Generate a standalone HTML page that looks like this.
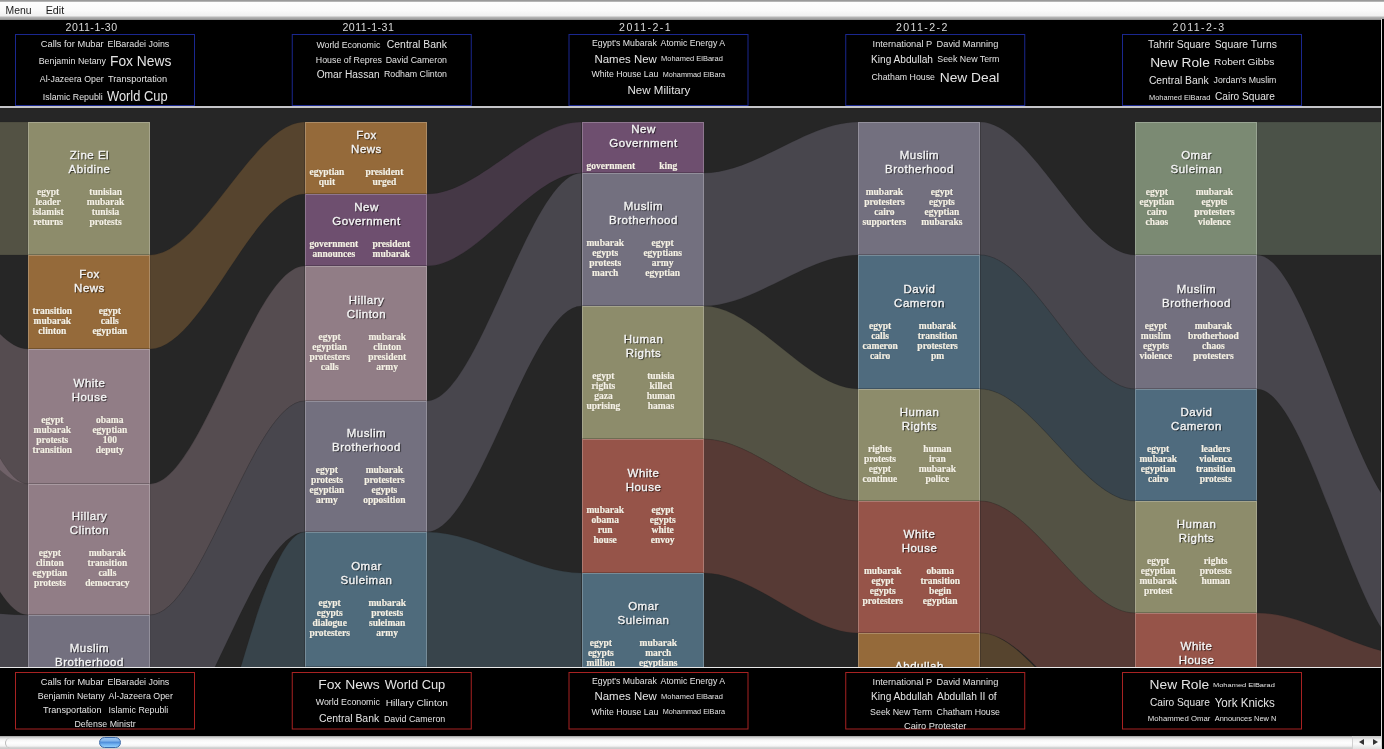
<!DOCTYPE html>
<html><head><meta charset="utf-8">
<style>
*{box-sizing:border-box}
html,body{margin:0;padding:0;width:1384px;height:749px;overflow:hidden;background:#000;font-family:"Liberation Sans",sans-serif}
#menu{position:absolute;left:0;top:0;width:1384px;height:20px;background:linear-gradient(#8a8a8a 0,#a8a8a8 1px,#c0c0c0 2px,#fdfdfd 2.5px,#fafafa 10px,#f0f0f0 16px,#b8b8b8 17px,#a0a0a0 19px,#888 20px)}
#menu span{position:absolute;top:3px;font-size:12px;color:#222}
.date{position:absolute;top:20px;width:180px;text-align:center;color:#e8e8e8;font-size:10.5px;letter-spacing:1px;line-height:14px}
.hbox{position:absolute;top:34px;width:180px;height:72px;border:1px solid #1a2a9a;border-bottom-color:#1a2a9a;padding-top:2px}
.fbox{position:absolute;top:672px;width:180px;height:57px;border:1px solid #a02020;padding-top:1px}
.row{display:flex;justify-content:center;align-items:baseline;gap:5px;color:#eaeaea;white-space:nowrap;line-height:1.25}
#hline{position:absolute;left:0;top:106px;width:1381px;height:2px;background:#c4c4c8}
#stage{position:absolute;left:0;top:108px;width:1381px;height:559px;background:#262626;overflow:hidden}
#stage svg{position:absolute;left:0;top:-108px}
.box{position:absolute;width:122px;border:1px solid;display:flex;align-items:center;justify-content:center;overflow:visible}
.inner{width:100%;text-align:center;will-change:transform;margin-top:-1px}
.ttl{color:#f4f4f4;font-size:11.5px;line-height:13.5px;letter-spacing:0.5px;text-shadow:1px 1px 1px rgba(0,0,0,.75);-webkit-text-stroke:0.35px #f4f4f4;padding-left:1px}
.kw{position:relative;height:var(--kh);margin-top:10.5px;font-family:"Liberation Serif",serif;font-weight:bold;font-size:9.5px;line-height:10px;color:#f6f2e6;text-shadow:0 0 1px rgba(0,0,0,.35);-webkit-text-stroke:0.2px #f6f2e6}
.kc{position:absolute;top:0;width:80px;text-align:center}
#fline{position:absolute;left:0;top:667px;width:1381px;height:1px;background:#e8e8e8}
#vline{position:absolute;left:1381px;top:19px;width:1px;height:730px;background:#d8d8d8}
#rstrip{position:absolute;left:1382px;top:19px;width:2px;height:730px;background:#000}
#ov{position:absolute;left:0;top:0;pointer-events:none;will-change:transform}
#scroll{position:absolute;left:0;top:736px;width:1381px;height:13px;background:linear-gradient(#9a9a9a 0,#c4c4c4 1px,#dcdcdc 2px,#f6f6f6 4px,#fefefe 7px,#f4f4f4 10px,#d4d4d4 11.5px,#c8c8c8 13px)}
#scap{position:absolute;left:5px;top:1.5px;width:14px;height:10px;border-radius:5px 0 0 5px;border-left:1px solid #b8b8b8;background:transparent}
#arrows{position:absolute;left:1352px;top:0;width:29px;height:13px;background:linear-gradient(#c0c0c0,#f0f0f0 30%,#fafafa 60%,#e0e0e0);border-left:1px solid #d0d0d0}
#arrows span{position:absolute;top:3px;width:0;height:0;border-top:3.5px solid transparent;border-bottom:3.5px solid transparent}
#thumb{position:absolute;left:98.5px;top:1px;width:22px;height:10.5px;border-radius:5.5px;background:linear-gradient(#9cc4f0 0,#80b4ec 35%,#4a8ad8 45%,#70b0f0 70%,#90d0fc 100%);border:1px solid #3c6aa8}
</style></head><body>
<div id="menu"></div>

<div id="hline"></div>
<div id="stage">
<svg width="1381" height="667" viewBox="0 0 1381 667">
<path d="M-126.8,122 C-75.2,122 -23.6,122 28.0,122 L28.0,255 C-23.6,255 -75.2,255 -126.8,255 Z" fill="#8d8c6b" fill-opacity="0.44" stroke="#1a1a1a" stroke-opacity="0.15" stroke-width="1"/>
<path d="M-126.8,175 C-75.2,175 -23.6,349 28.0,349 L28.0,484 C-23.6,484 -75.2,322 -126.8,322 Z" fill="#917d86" fill-opacity="0.44" stroke="#1a1a1a" stroke-opacity="0.15" stroke-width="1"/>
<path d="M-126.8,183 C-75.2,183 -23.6,484 28.0,484 L28.0,615 C-23.6,615 -75.2,349 -126.8,349 Z" fill="#917d86" fill-opacity="0.44" stroke="#1a1a1a" stroke-opacity="0.15" stroke-width="1"/>
<path d="M-126.8,600 C-75.2,600 -23.6,615 28.0,615 L28.0,748 C-23.6,748 -75.2,735 -126.8,735 Z" fill="#73707f" fill-opacity="0.44" stroke="#1a1a1a" stroke-opacity="0.15" stroke-width="1"/>
<path d="M150.0,255 C201.6,255 253.2,122 304.8,122 L304.8,194 C253.2,194 201.6,349 150.0,349 Z" fill="#956a3a" fill-opacity="0.44" stroke="#1a1a1a" stroke-opacity="0.15" stroke-width="1"/>
<path d="M150.0,484 C201.6,484 253.2,266 304.8,266 L304.8,401 C253.2,401 201.6,615 150.0,615 Z" fill="#917d86" fill-opacity="0.44" stroke="#1a1a1a" stroke-opacity="0.15" stroke-width="1"/>
<path d="M150.0,615 C201.6,615 253.2,401 304.8,401 L304.8,532 C253.2,532 201.6,750 150.0,750 Z" fill="#73707f" fill-opacity="0.44" stroke="#1a1a1a" stroke-opacity="0.15" stroke-width="1"/>
<path d="M150.0,896 C201.6,896 253.2,532 304.8,532 L304.8,667 C253.2,667 201.6,1030 150.0,1030 Z" fill="#4f6b7c" fill-opacity="0.44" stroke="#1a1a1a" stroke-opacity="0.15" stroke-width="1"/>
<path d="M426.8,194 C478.3,194 529.9,122 581.5,122 L581.5,173 C529.9,173 478.3,266 426.8,266 Z" fill="#6e4f6f" fill-opacity="0.44" stroke="#1a1a1a" stroke-opacity="0.15" stroke-width="1"/>
<path d="M426.8,401 C478.3,401 529.9,173 581.5,173 L581.5,306 C529.9,306 478.3,532 426.8,532 Z" fill="#73707f" fill-opacity="0.44" stroke="#1a1a1a" stroke-opacity="0.15" stroke-width="1"/>
<path d="M426.8,532 C478.3,532 529.9,573 581.5,573 L581.5,706 C529.9,706 478.3,667 426.8,667 Z" fill="#4f6b7c" fill-opacity="0.44" stroke="#1a1a1a" stroke-opacity="0.15" stroke-width="1"/>
<path d="M703.5,173 C755.1,173 806.7,122 858.2,122 L858.2,255 C806.7,255 755.1,306 703.5,306 Z" fill="#73707f" fill-opacity="0.44" stroke="#1a1a1a" stroke-opacity="0.15" stroke-width="1"/>
<path d="M703.5,306 C755.1,306 806.7,389 858.2,389 L858.2,501 C806.7,501 755.1,439 703.5,439 Z" fill="#8d8c6b" fill-opacity="0.44" stroke="#1a1a1a" stroke-opacity="0.15" stroke-width="1"/>
<path d="M703.5,439 C755.1,439 806.7,501 858.2,501 L858.2,633 C806.7,633 755.1,573 703.5,573 Z" fill="#965449" fill-opacity="0.44" stroke="#1a1a1a" stroke-opacity="0.15" stroke-width="1"/>
<path d="M980.2,122 C1031.8,122 1083.4,255 1135.0,255 L1135.0,389 C1083.4,389 1031.8,255 980.2,255 Z" fill="#73707f" fill-opacity="0.44" stroke="#1a1a1a" stroke-opacity="0.15" stroke-width="1"/>
<path d="M980.2,255 C1031.8,255 1083.4,389 1135.0,389 L1135.0,501 C1083.4,501 1031.8,389 980.2,389 Z" fill="#4f6b7e" fill-opacity="0.44" stroke="#1a1a1a" stroke-opacity="0.15" stroke-width="1"/>
<path d="M980.2,389 C1031.8,389 1083.4,501 1135.0,501 L1135.0,613 C1083.4,613 1031.8,501 980.2,501 Z" fill="#8d8c6b" fill-opacity="0.44" stroke="#1a1a1a" stroke-opacity="0.15" stroke-width="1"/>
<path d="M980.2,501 C1031.8,501 1083.4,613 1135.0,613 L1135.0,746 C1083.4,746 1031.8,633 980.2,633 Z" fill="#965449" fill-opacity="0.44" stroke="#1a1a1a" stroke-opacity="0.15" stroke-width="1"/>
<path d="M980.2,633 C1031.8,633 1083.4,752 1135.0,752 L1135.0,860 C1083.4,860 1031.8,745 980.2,745 Z" fill="#956a3a" fill-opacity="0.44" stroke="#1a1a1a" stroke-opacity="0.15" stroke-width="1"/>
<path d="M1257.0,122 C1308.6,122 1360.2,122 1411.8,122 L1411.8,255 C1360.2,255 1308.6,255 1257.0,255 Z" fill="#7b8a73" fill-opacity="0.44" stroke="#1a1a1a" stroke-opacity="0.15" stroke-width="1"/>
<path d="M1257.0,255 C1308.6,255 1360.2,520 1411.8,520 L1411.8,655 C1360.2,655 1308.6,389 1257.0,389 Z" fill="#73707f" fill-opacity="0.44" stroke="#1a1a1a" stroke-opacity="0.15" stroke-width="1"/>
<path d="M1257.0,613 C1308.6,613 1360.2,655 1411.8,655 L1411.8,790 C1360.2,790 1308.6,746 1257.0,746 Z" fill="#965449" fill-opacity="0.44" stroke="#1a1a1a" stroke-opacity="0.15" stroke-width="1"/>
</svg>
<div class="box" style="left:28.00px;top:14px;height:133px;background:#8d8c6b;border-color:#a6a58c;border-bottom-color:#6e6d53"><div class="inner"><div class="ttl">Zine El<br>Abidine</div><div class="kw" style="--kh:40px"><div class="kc" style="left:-20.9px"><div>egypt</div><div>leader</div><div>islamist</div><div>returns</div></div><div class="kc" style="left:36.6px"><div>tunisian</div><div>mubarak</div><div>tunisia</div><div>protests</div></div></div></div></div><div class="box" style="left:28.00px;top:147px;height:94px;background:#956a3a;border-color:#ac8b65;border-bottom-color:#74532d"><div class="inner"><div class="ttl">Fox<br>News</div><div class="kw" style="--kh:30px"><div class="kc" style="left:-16.7px"><div>transition</div><div>mubarak</div><div>clinton</div></div><div class="kc" style="left:40.8px"><div>egypt</div><div>calls</div><div>egyptian</div></div></div></div></div><div class="box" style="left:28.00px;top:241px;height:135px;background:#917d86;border-color:#a99aa1;border-bottom-color:#716269"><div class="inner"><div class="ttl">White<br>House</div><div class="kw" style="--kh:40px"><div class="kc" style="left:-16.7px"><div>egypt</div><div>mubarak</div><div>protests</div><div>transition</div></div><div class="kc" style="left:40.8px"><div>obama</div><div>egyptian</div><div>100</div><div>deputy</div></div></div></div></div><div class="box" style="left:28.00px;top:376px;height:131px;background:#917d86;border-color:#a99aa1;border-bottom-color:#716269"><div class="inner"><div class="ttl">Hillary<br>Clinton</div><div class="kw" style="--kh:40px"><div class="kc" style="left:-19.1px"><div>egypt</div><div>clinton</div><div>egyptian</div><div>protests</div></div><div class="kc" style="left:38.4px"><div>mubarak</div><div>transition</div><div>calls</div><div>democracy</div></div></div></div></div><div class="box" style="left:28.00px;top:507px;height:133px;background:#73707f;border-color:#928f9b;border-bottom-color:#5a5763"><div class="inner"><div class="ttl">Muslim<br>Brotherhood</div><div class="kw" style="--kh:40px"><div class="kc" style="left:-20.5px"><div>egypt</div><div>protests</div><div>army</div><div>cairo</div></div><div class="kc" style="left:37.0px"><div>mubarak</div><div>egypts</div><div>protesters</div><div>egyptian</div></div></div></div></div><div class="box" style="left:304.75px;top:14px;height:72px;background:#956a3a;border-color:#ac8b65;border-bottom-color:#74532d"><div class="inner"><div class="ttl">Fox<br>News</div><div class="kw" style="--kh:20px"><div class="kc" style="left:-19.1px"><div>egyptian</div><div>quit</div></div><div class="kc" style="left:38.4px"><div>president</div><div>urged</div></div></div></div></div><div class="box" style="left:304.75px;top:86px;height:72px;background:#6e4f6f;border-color:#8e768f;border-bottom-color:#563e57"><div class="inner"><div class="ttl">New<br>Government</div><div class="kw" style="--kh:20px"><div class="kc" style="left:-12.2px"><div>government</div><div>announces</div></div><div class="kc" style="left:45.3px"><div>president</div><div>mubarak</div></div></div></div></div><div class="box" style="left:304.75px;top:158px;height:135px;background:#917d86;border-color:#a99aa1;border-bottom-color:#716269"><div class="inner"><div class="ttl">Hillary<br>Clinton</div><div class="kw" style="--kh:40px"><div class="kc" style="left:-16.3px"><div>egypt</div><div>egyptian</div><div>protesters</div><div>calls</div></div><div class="kc" style="left:41.2px"><div>mubarak</div><div>clinton</div><div>president</div><div>army</div></div></div></div></div><div class="box" style="left:304.75px;top:293px;height:131px;background:#73707f;border-color:#928f9b;border-bottom-color:#5a5763"><div class="inner"><div class="ttl">Muslim<br>Brotherhood</div><div class="kw" style="--kh:40px"><div class="kc" style="left:-19.1px"><div>egypt</div><div>protests</div><div>egyptian</div><div>army</div></div><div class="kc" style="left:38.4px"><div>mubarak</div><div>protesters</div><div>egypts</div><div>opposition</div></div></div></div></div><div class="box" style="left:304.75px;top:424px;height:135px;background:#4f6b7c;border-color:#768c99;border-bottom-color:#3e5361"><div class="inner"><div class="ttl">Omar<br>Suleiman</div><div class="kw" style="--kh:40px"><div class="kc" style="left:-16.3px"><div>egypt</div><div>egypts</div><div>dialogue</div><div>protesters</div></div><div class="kc" style="left:41.2px"><div>mubarak</div><div>protests</div><div>suleiman</div><div>army</div></div></div></div></div><div class="box" style="left:581.50px;top:14px;height:51px;background:#6e4f6f;border-color:#8e768f;border-bottom-color:#563e57"><div class="inner"><div class="ttl">New<br>Government</div><div class="kw" style="--kh:10px"><div class="kc" style="left:-12.2px"><div>government</div></div><div class="kc" style="left:45.3px"><div>king</div></div></div></div></div><div class="box" style="left:581.50px;top:65px;height:133px;background:#73707f;border-color:#928f9b;border-bottom-color:#5a5763"><div class="inner"><div class="ttl">Muslim<br>Brotherhood</div><div class="kw" style="--kh:40px"><div class="kc" style="left:-17.8px"><div>mubarak</div><div>egypts</div><div>protests</div><div>march</div></div><div class="kc" style="left:39.7px"><div>egypt</div><div>egyptians</div><div>army</div><div>egyptian</div></div></div></div></div><div class="box" style="left:581.50px;top:198px;height:133px;background:#8d8c6b;border-color:#a6a58c;border-bottom-color:#6e6d53"><div class="inner"><div class="ttl">Human<br>Rights</div><div class="kw" style="--kh:40px"><div class="kc" style="left:-19.6px"><div>egypt</div><div>rights</div><div>gaza</div><div>uprising</div></div><div class="kc" style="left:37.9px"><div>tunisia</div><div>killed</div><div>human</div><div>hamas</div></div></div></div></div><div class="box" style="left:581.50px;top:331px;height:134px;background:#965449;border-color:#ad7a71;border-bottom-color:#754239"><div class="inner"><div class="ttl">White<br>House</div><div class="kw" style="--kh:40px"><div class="kc" style="left:-17.8px"><div>mubarak</div><div>obama</div><div>run</div><div>house</div></div><div class="kc" style="left:39.7px"><div>egypt</div><div>egypts</div><div>white</div><div>envoy</div></div></div></div></div><div class="box" style="left:581.50px;top:465px;height:133px;background:#4f6b7c;border-color:#768c99;border-bottom-color:#3e5361"><div class="inner"><div class="ttl">Omar<br>Suleiman</div><div class="kw" style="--kh:40px"><div class="kc" style="left:-22.2px"><div>egypt</div><div>egypts</div><div>million</div><div>cairo</div></div><div class="kc" style="left:35.3px"><div>mubarak</div><div>march</div><div>egyptians</div><div>army</div></div></div></div></div><div class="box" style="left:858.25px;top:14px;height:133px;background:#73707f;border-color:#928f9b;border-bottom-color:#5a5763"><div class="inner"><div class="ttl">Muslim<br>Brotherhood</div><div class="kw" style="--kh:40px"><div class="kc" style="left:-14.6px"><div>mubarak</div><div>protesters</div><div>cairo</div><div>supporters</div></div><div class="kc" style="left:42.9px"><div>egypt</div><div>egypts</div><div>egyptian</div><div>mubaraks</div></div></div></div></div><div class="box" style="left:858.25px;top:147px;height:134px;background:#4f6b7e;border-color:#768c9a;border-bottom-color:#3e5362"><div class="inner"><div class="ttl">David<br>Cameron</div><div class="kw" style="--kh:40px"><div class="kc" style="left:-18.9px"><div>egypt</div><div>calls</div><div>cameron</div><div>cairo</div></div><div class="kc" style="left:38.6px"><div>mubarak</div><div>transition</div><div>protesters</div><div>pm</div></div></div></div></div><div class="box" style="left:858.25px;top:281px;height:112px;background:#8d8c6b;border-color:#a6a58c;border-bottom-color:#6e6d53"><div class="inner"><div class="ttl">Human<br>Rights</div><div class="kw" style="--kh:40px"><div class="kc" style="left:-19.1px"><div>rights</div><div>protests</div><div>egypt</div><div>continue</div></div><div class="kc" style="left:38.4px"><div>human</div><div>iran</div><div>mubarak</div><div>police</div></div></div></div></div><div class="box" style="left:858.25px;top:393px;height:132px;background:#965449;border-color:#ad7a71;border-bottom-color:#754239"><div class="inner"><div class="ttl">White<br>House</div><div class="kw" style="--kh:40px"><div class="kc" style="left:-16.3px"><div>mubarak</div><div>egypt</div><div>egypts</div><div>protesters</div></div><div class="kc" style="left:41.2px"><div>obama</div><div>transition</div><div>begin</div><div>egyptian</div></div></div></div></div><div class="box" style="left:858.25px;top:525px;height:112px;background:#956a3a;border-color:#ac8b65;border-bottom-color:#74532d"><div class="inner"><div class="ttl">Abdullah<br>II</div><div class="kw" style="--kh:20px"><div class="kc" style="left:-25.4px"><div>egypt</div><div>king</div></div><div class="kc" style="left:32.1px"><div>jordan</div><div>abdullah</div></div></div></div></div><div class="box" style="left:1135.00px;top:14px;height:133px;background:#7b8a73;border-color:#98a492;border-bottom-color:#606c5a"><div class="inner"><div class="ttl">Omar<br>Suleiman</div><div class="kw" style="--kh:40px"><div class="kc" style="left:-19.1px"><div>egypt</div><div>egyptian</div><div>cairo</div><div>chaos</div></div><div class="kc" style="left:38.4px"><div>mubarak</div><div>egypts</div><div>protesters</div><div>violence</div></div></div></div></div><div class="box" style="left:1135.00px;top:147px;height:134px;background:#73707f;border-color:#928f9b;border-bottom-color:#5a5763"><div class="inner"><div class="ttl">Muslim<br>Brotherhood</div><div class="kw" style="--kh:40px"><div class="kc" style="left:-20.1px"><div>egypt</div><div>muslim</div><div>egypts</div><div>violence</div></div><div class="kc" style="left:37.4px"><div>mubarak</div><div>brotherhood</div><div>chaos</div><div>protesters</div></div></div></div></div><div class="box" style="left:1135.00px;top:281px;height:112px;background:#4f6b7e;border-color:#768c9a;border-bottom-color:#3e5362"><div class="inner"><div class="ttl">David<br>Cameron</div><div class="kw" style="--kh:40px"><div class="kc" style="left:-17.8px"><div>egypt</div><div>mubarak</div><div>egyptian</div><div>cairo</div></div><div class="kc" style="left:39.7px"><div>leaders</div><div>violence</div><div>transition</div><div>protests</div></div></div></div></div><div class="box" style="left:1135.00px;top:393px;height:112px;background:#8d8c6b;border-color:#a6a58c;border-bottom-color:#6e6d53"><div class="inner"><div class="ttl">Human<br>Rights</div><div class="kw" style="--kh:40px"><div class="kc" style="left:-17.8px"><div>egypt</div><div>egyptian</div><div>mubarak</div><div>protest</div></div><div class="kc" style="left:39.7px"><div>rights</div><div>protests</div><div>human</div></div></div></div></div><div class="box" style="left:1135.00px;top:505px;height:133px;background:#965449;border-color:#ad7a71;border-bottom-color:#754239"><div class="inner"><div class="ttl">White<br>House</div><div class="kw" style="--kh:40px"><div class="kc" style="left:-17.8px"><div>mubarak</div><div>egypt</div><div>obama</div><div>house</div></div><div class="kc" style="left:39.7px"><div>egypt</div><div>white</div><div>envoy</div><div>egyptian</div></div></div></div></div>
</div>
<div id="fline"></div>
<div id="scroll"><div id="scap"></div><div id="thumb"></div><div id="arrows"><span style="left:6px;border-right:5px solid #333"></span><span style="left:20px;border-left:5px solid #333"></span></div></div>
<div id="vline"></div><div id="rstrip"></div>
<svg id="ov" width="1384" height="749" viewBox="0 0 1384 749"><rect x="15.50" y="34.5" width="179" height="71" fill="none" stroke="#1a278f" stroke-width="1"/><rect x="15.50" y="672.5" width="179" height="56.5" fill="none" stroke="#a82222" stroke-width="1"/><rect x="292.25" y="34.5" width="179" height="71" fill="none" stroke="#1a278f" stroke-width="1"/><rect x="292.25" y="672.5" width="179" height="56.5" fill="none" stroke="#a82222" stroke-width="1"/><rect x="569.00" y="34.5" width="179" height="71" fill="none" stroke="#1a278f" stroke-width="1"/><rect x="569.00" y="672.5" width="179" height="56.5" fill="none" stroke="#a82222" stroke-width="1"/><rect x="845.75" y="34.5" width="179" height="71" fill="none" stroke="#1a278f" stroke-width="1"/><rect x="845.75" y="672.5" width="179" height="56.5" fill="none" stroke="#a82222" stroke-width="1"/><rect x="1122.50" y="34.5" width="179" height="71" fill="none" stroke="#1a278f" stroke-width="1"/><rect x="1122.50" y="672.5" width="179" height="56.5" fill="none" stroke="#a82222" stroke-width="1"/><g fill="#e4e4e4" font-family="Liberation Sans, sans-serif"><text x="40.8" y="46.8" font-size="9.45" textLength="62.9" lengthAdjust="spacingAndGlyphs">Calls for Mubar</text><text x="107.5" y="46.8" font-size="9.45" textLength="61.8" lengthAdjust="spacingAndGlyphs">ElBaradei Joins</text><text x="38.7" y="63.8" font-size="9.59" textLength="67.2" lengthAdjust="spacingAndGlyphs">Benjamin Netany</text><text x="110.0" y="66.3" font-size="14.68" textLength="61.4" lengthAdjust="spacingAndGlyphs">Fox News</text><text x="39.8" y="82.2" font-size="9.45" textLength="63.9" lengthAdjust="spacingAndGlyphs">Al-Jazeera Oper</text><text x="108.0" y="82.2" font-size="9.74" textLength="59.1" lengthAdjust="spacingAndGlyphs">Transportation</text><text x="42.8" y="99.6" font-size="9.59" textLength="60.0" lengthAdjust="spacingAndGlyphs">Islamic Republi</text><text x="107.0" y="101.0" font-size="13.95" textLength="60.6" lengthAdjust="spacingAndGlyphs">World Cup</text><text x="316.4" y="47.5" font-size="9.45" textLength="63.9" lengthAdjust="spacingAndGlyphs">World Economic</text><text x="386.8" y="48.3" font-size="11.34" textLength="60.2" lengthAdjust="spacingAndGlyphs">Central Bank</text><text x="315.8" y="62.7" font-size="9.45" textLength="66.2" lengthAdjust="spacingAndGlyphs">House of Repres</text><text x="385.7" y="62.7" font-size="9.45" textLength="61.3" lengthAdjust="spacingAndGlyphs">David Cameron</text><text x="316.7" y="77.7" font-size="11.05" textLength="62.9" lengthAdjust="spacingAndGlyphs">Omar Hassan</text><text x="383.9" y="77.0" font-size="8.72" textLength="63.1" lengthAdjust="spacingAndGlyphs">Rodham Clinton</text><text x="592.0" y="45.7" font-size="8.72" textLength="64.8" lengthAdjust="spacingAndGlyphs">Egypt&#39;s Mubarak</text><text x="660.6" y="45.7" font-size="8.72" textLength="64.5" lengthAdjust="spacingAndGlyphs">Atomic Energy A</text><text x="594.5" y="62.5" font-size="11.48" textLength="62.3" lengthAdjust="spacingAndGlyphs">Names New</text><text x="661.0" y="61.1" font-size="6.69" textLength="61.9" lengthAdjust="spacingAndGlyphs">Mohamed ElBarad</text><text x="591.5" y="76.8" font-size="8.72" textLength="66.9" lengthAdjust="spacingAndGlyphs">White House Lau</text><text x="662.7" y="76.5" font-size="6.69" textLength="62.3" lengthAdjust="spacingAndGlyphs">Mohammad ElBara</text><text x="627.5" y="93.6" font-size="11.77" textLength="62.9" lengthAdjust="spacingAndGlyphs">New Military</text><text x="872.6" y="46.8" font-size="9.45" textLength="59.6" lengthAdjust="spacingAndGlyphs">International P</text><text x="936.6" y="46.8" font-size="9.45" textLength="61.7" lengthAdjust="spacingAndGlyphs">David Manning</text><text x="871.0" y="62.7" font-size="11.05" textLength="62.0" lengthAdjust="spacingAndGlyphs">King Abdullah</text><text x="937.3" y="61.6" font-size="8.14" textLength="62.1" lengthAdjust="spacingAndGlyphs">Seek New Term</text><text x="871.5" y="79.5" font-size="8.58" textLength="63.5" lengthAdjust="spacingAndGlyphs">Chatham House</text><text x="939.8" y="81.7" font-size="13.37" textLength="59.6" lengthAdjust="spacingAndGlyphs">New Deal</text><text x="1148.0" y="47.5" font-size="10.61" textLength="62.3" lengthAdjust="spacingAndGlyphs">Tahrir Square</text><text x="1214.7" y="47.5" font-size="10.61" textLength="62.3" lengthAdjust="spacingAndGlyphs">Square Turns</text><text x="1150.2" y="66.5" font-size="13.37" textLength="59.6" lengthAdjust="spacingAndGlyphs">New Role</text><text x="1214.1" y="65.4" font-size="9.74" textLength="60.2" lengthAdjust="spacingAndGlyphs">Robert Gibbs</text><text x="1148.9" y="84.0" font-size="10.61" textLength="59.8" lengthAdjust="spacingAndGlyphs">Central Bank</text><text x="1213.6" y="83.3" font-size="9.45" textLength="62.8" lengthAdjust="spacingAndGlyphs">Jordan&#39;s Muslim</text><text x="1149.0" y="99.6" font-size="7.12" textLength="61.3" lengthAdjust="spacingAndGlyphs">Mohamed ElBarad</text><text x="1215.0" y="100.1" font-size="10.32" textLength="59.8" lengthAdjust="spacingAndGlyphs">Cairo Square</text><text x="40.8" y="684.6" font-size="8.72" textLength="62.9" lengthAdjust="spacingAndGlyphs">Calls for Mubar</text><text x="107.5" y="684.6" font-size="8.72" textLength="61.8" lengthAdjust="spacingAndGlyphs">ElBaradei Joins</text><text x="37.8" y="699.3" font-size="9.16" textLength="67.0" lengthAdjust="spacingAndGlyphs">Benjamin Netany</text><text x="108.6" y="699.3" font-size="9.16" textLength="64.4" lengthAdjust="spacingAndGlyphs">Al-Jazeera Oper</text><text x="43.0" y="713.4" font-size="9.45" textLength="58.5" lengthAdjust="spacingAndGlyphs">Transportation</text><text x="108.6" y="713.4" font-size="9.45" textLength="59.6" lengthAdjust="spacingAndGlyphs">Islamic Republi</text><text x="74.4" y="727.4" font-size="8.72" textLength="61.3" lengthAdjust="spacingAndGlyphs">Defense Ministr</text><text x="318.2" y="688.7" font-size="13.37" textLength="61.6" lengthAdjust="spacingAndGlyphs">Fox News</text><text x="384.7" y="688.7" font-size="13.37" textLength="60.6" lengthAdjust="spacingAndGlyphs">World Cup</text><text x="315.8" y="704.7" font-size="8.72" textLength="64.0" lengthAdjust="spacingAndGlyphs">World Economic</text><text x="385.7" y="705.5" font-size="9.88" textLength="62.3" lengthAdjust="spacingAndGlyphs">Hillary Clinton</text><text x="318.9" y="721.8" font-size="10.17" textLength="60.3" lengthAdjust="spacingAndGlyphs">Central Bank</text><text x="383.9" y="721.5" font-size="8.72" textLength="61.4" lengthAdjust="spacingAndGlyphs">David Cameron</text><text x="592.0" y="683.9" font-size="8.72" textLength="64.8" lengthAdjust="spacingAndGlyphs">Egypt&#39;s Mubarak</text><text x="660.6" y="683.9" font-size="8.72" textLength="64.5" lengthAdjust="spacingAndGlyphs">Atomic Energy A</text><text x="594.5" y="700.3" font-size="11.48" textLength="62.3" lengthAdjust="spacingAndGlyphs">Names New</text><text x="661.1" y="699.0" font-size="6.69" textLength="61.8" lengthAdjust="spacingAndGlyphs">Mohamed ElBarad</text><text x="591.5" y="715.0" font-size="8.72" textLength="66.9" lengthAdjust="spacingAndGlyphs">White House Lau</text><text x="662.7" y="714.4" font-size="6.69" textLength="62.3" lengthAdjust="spacingAndGlyphs">Mohammad ElBara</text><text x="872.6" y="684.6" font-size="9.01" textLength="59.6" lengthAdjust="spacingAndGlyphs">International P</text><text x="936.6" y="684.6" font-size="9.01" textLength="61.7" lengthAdjust="spacingAndGlyphs">David Manning</text><text x="871.0" y="700.3" font-size="10.17" textLength="62.0" lengthAdjust="spacingAndGlyphs">King Abdullah</text><text x="937.1" y="700.3" font-size="10.17" textLength="59.6" lengthAdjust="spacingAndGlyphs">Abdullah II of</text><text x="870.1" y="714.8" font-size="9.16" textLength="62.1" lengthAdjust="spacingAndGlyphs">Seek New Term</text><text x="936.6" y="714.8" font-size="9.16" textLength="63.4" lengthAdjust="spacingAndGlyphs">Chatham House</text><text x="904.0" y="729.4" font-size="9.16" textLength="62.4" lengthAdjust="spacingAndGlyphs">Cairo Protester</text><text x="1149.6" y="689.0" font-size="13.66" textLength="59.6" lengthAdjust="spacingAndGlyphs">New Role</text><text x="1213.0" y="686.8" font-size="6.25" textLength="61.8" lengthAdjust="spacingAndGlyphs">Mohamed ElBarad</text><text x="1150.0" y="706.3" font-size="10.17" textLength="59.8" lengthAdjust="spacingAndGlyphs">Cairo Square</text><text x="1214.7" y="706.8" font-size="12.21" textLength="60.1" lengthAdjust="spacingAndGlyphs">York Knicks</text><text x="1147.8" y="720.9" font-size="7.85" textLength="62.5" lengthAdjust="spacingAndGlyphs">Mohammed Omar</text><text x="1214.7" y="720.9" font-size="6.54" textLength="61.7" lengthAdjust="spacingAndGlyphs">Announces New N</text><text x="65.6" y="30.6" font-size="10.6" fill="#dadada" textLength="51.5" lengthAdjust="spacing">2011-1-30</text><text x="342.4" y="30.6" font-size="10.6" fill="#dadada" textLength="51.5" lengthAdjust="spacing">2011-1-31</text><text x="619.1" y="30.6" font-size="10.6" fill="#dadada" textLength="51.5" lengthAdjust="spacing">2011-2-1</text><text x="895.9" y="30.6" font-size="10.6" fill="#dadada" textLength="51.5" lengthAdjust="spacing">2011-2-2</text><text x="1172.6" y="30.6" font-size="10.6" fill="#dadada" textLength="51.5" lengthAdjust="spacing">2011-2-3</text><text x="5.5" y="13.9" font-size="11.5" fill="#1a1a1a" textLength="26" lengthAdjust="spacingAndGlyphs">Menu</text><text x="45.7" y="13.9" font-size="11.5" fill="#1a1a1a" textLength="18.5" lengthAdjust="spacingAndGlyphs">Edit</text></g></svg>
</body></html>
